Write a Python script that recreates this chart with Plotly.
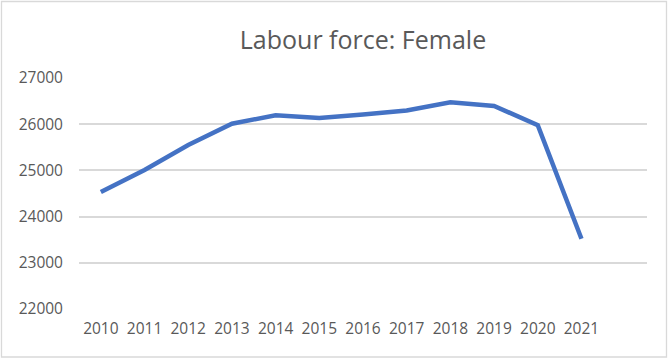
import plotly.graph_objects as go

years = [2010, 2011, 2012, 2013, 2014, 2015, 2016, 2017, 2018, 2019, 2020, 2021]
labour_force_female = [24530, 25010, 25550, 26010, 26195, 26135, 26210, 26295, 26475, 26395, 25980, 23520]
tick_labels = [str(y) for y in years]
y_ticks = [22000, 23000, 24000, 25000, 26000, 27000]

W, H = 671, 359
ml, mr, mt, mb = 79, 24, 78, 50
pw, ph = W - ml - mr, H - mt - mb

def px_x(p):
    return (p - ml) / pw

def px_y(p):
    return (H - mb - p) / ph

font_family = "Open Sans, Calibri, Carlito, sans-serif"
grey = "#595959"

fig = go.Figure()
fig.add_trace(go.Scatter(
    x=years, y=labour_force_female, mode="lines",
    line=dict(color="#4472C4", width=4.5),
    hoverinfo="x+y", showlegend=False,
))

fig.update_layout(
    width=W, height=H,
    margin=dict(l=ml, r=mr, t=mt, b=mb, pad=0),
    paper_bgcolor="white", plot_bgcolor="white",
    title=dict(text="Labour force: Female", x=0.5, xref="paper", xanchor="center",
               y=1 - 40 / H, yref="container", yanchor="middle",
               font=dict(family=font_family, size=25, color=grey)),
    font=dict(family=font_family, color=grey),
    xaxis=dict(
        range=[years[0] - 0.5, years[-1] + 1.5],
        tickvals=years, ticktext=tick_labels,
        showgrid=False, zeroline=False, showline=False, ticks="",
        tickfont=dict(size=15.5, color=grey),
        ticklabelstandoff=8,
        fixedrange=True,
    ),
    yaxis=dict(
        range=[22000, 27000],
        tickvals=y_ticks, ticktext=[str(v) for v in y_ticks],
        showgrid=True, gridcolor="#D9D9D9", gridwidth=1.5,
        zeroline=False, showline=False, ticks="",
        tickfont=dict(size=15.5, color=grey),
        ticklabelstandoff=15,
        fixedrange=True,
    ),
    shapes=[dict(
        type="rect", xref="paper", yref="paper",
        x0=px_x(1.5), x1=px_x(666.5), y0=px_y(357), y1=px_y(1.5),
        line=dict(color="#D9D9D9", width=1.3), fillcolor="rgba(0,0,0,0)", layer="below",
    )],
)

fig.write_html("out.html", config={"displayModeBar": False},
               post_script="document.body.style.margin='0';document.body.style.overflow='hidden';")
